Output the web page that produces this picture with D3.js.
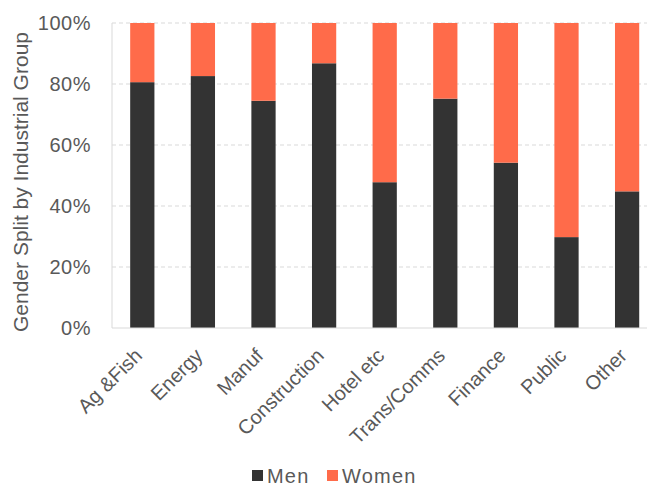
<!DOCTYPE html>
<html>
<head>
<meta charset="utf-8">
<script src="https://cdn.jsdelivr.net/npm/d3@7/dist/d3.min.js"></script>
<style>
  html, body { margin: 0; padding: 0; background: #fff; }
  svg { display: block; font-family: "Liberation Sans", Arial, sans-serif; }
</style>
</head>
<body>
<svg id="chart" width="647" height="488"></svg>
<script>
// Industrial groups and share of men (%) in each; women make up the rest
const categories = ["Ag &Fish", "Energy", "Manuf", "Construction", "Hotel etc",
                    "Trans/Comms", "Finance", "Public", "Other"];
const menShare = [80.6, 82.6, 74.5, 86.8, 47.8, 75.2, 54.2, 29.8, 44.8];
const womenShare = menShare.map(v => 100 - v);
const seriesNames = ["Men", "Women"];
const yTicks = [0, 20, 40, 60, 80, 100];

const colors = { Men: "#333333", Women: "#FF6B4A" };
const textColor = "#595959";
const font = "Liberation Sans, Arial, sans-serif";

const svg = d3.select("#chart");
const margin = { top: 23, left: 112 };
const plotH = 328 - margin.top;
const bandStep = 60.6;
const plotW = bandStep * categories.length;

const x = d3.scaleBand().domain(categories)
  .range([margin.left, margin.left + plotW]).paddingInner(0.6).paddingOuter(0.3);
const y = d3.scaleLinear().domain([0, 100]).range([margin.top + plotH, margin.top]);

// dashed horizontal gridlines
svg.append("g").selectAll("line").data(yTicks.filter(t => t > 0)).join("line")
  .attr("x1", margin.left).attr("x2", margin.left + plotW)
  .attr("y1", d => y(d)).attr("y2", d => y(d))
  .attr("stroke", "#d9d9d9").attr("stroke-width", 1).attr("stroke-dasharray", "4,3");

// stacked bars
const rows = categories.map((c, i) => ({ cat: c, Men: menShare[i], Women: womenShare[i] }));
const stacked = d3.stack().keys(seriesNames)(rows);
svg.append("g").selectAll("g").data(stacked).join("g")
  .attr("fill", d => colors[d.key])
  .selectAll("rect").data(d => d).join("rect")
  .attr("x", d => x(d.data.cat))
  .attr("width", x.bandwidth())
  .attr("y", d => y(d[1]))
  .attr("height", d => y(d[0]) - y(d[1]));

// axis lines
svg.append("line").attr("x1", margin.left).attr("x2", margin.left)
  .attr("y1", y(0)).attr("y2", y(100)).attr("stroke", "#d9d9d9");
svg.append("line").attr("x1", margin.left).attr("x2", margin.left + plotW)
  .attr("y1", y(0)).attr("y2", y(0)).attr("stroke", "#d9d9d9");

// y axis tick labels
const yAxis = d3.axisLeft(y).tickValues(yTicks).tickFormat(d => d + "%").tickSize(0).tickPadding(21);
const gy = svg.append("g").attr("transform", `translate(${margin.left},0)`).call(yAxis);
gy.select(".domain").remove();
gy.selectAll("text").attr("fill", textColor).style("font-size", "20px")
  .attr("font-family", font).attr("letter-spacing", "0.5px");

// x axis category labels, rotated
const xAxis = d3.axisBottom(x).tickSize(0).tickPadding(0);
const gx = svg.append("g").attr("transform", `translate(0,${y(0)})`).call(xAxis);
gx.select(".domain").remove();
gx.selectAll("text")
  .attr("fill", textColor).style("font-size", "20px")
  .attr("font-family", font)
  .attr("text-anchor", "end")
  .attr("x", 0).attr("y", 0).attr("dy", 0)
  .attr("transform", "translate(1,29) rotate(-45)");

// y axis title
svg.append("text")
  .attr("transform", "translate(28,182) rotate(-90)")
  .attr("text-anchor", "middle")
  .attr("fill", textColor).style("font-size", "21px")
  .text("Gender Split by Industrial Group");

// legend
const legend = svg.append("g").attr("transform", "translate(252,483)");
const legendX = [0, 75];
seriesNames.forEach((name, i) => {
  const g = legend.append("g").attr("transform", `translate(${legendX[i]},0)`);
  g.append("rect").attr("x", 0).attr("y", -13).attr("width", 11).attr("height", 11)
    .attr("fill", colors[name]);
  g.append("text").attr("x", 15).attr("y", 0).attr("fill", textColor)
    .style("font-size", "20px").attr("letter-spacing", "1.2px").text(name);
});
</script>
</body>
</html>
